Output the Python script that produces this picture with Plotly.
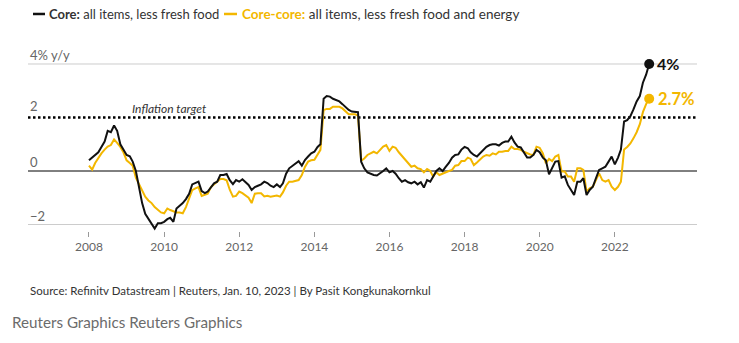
import pandas as pd
import plotly.graph_objects as go

# Monthly y/y inflation, Jan 2008 - Dec 2022
months = pd.date_range("2008-01-01", periods=180, freq="MS")

core = [
    0.4, 0.5, 0.6, 0.7, 0.9, 1.1, 1.5, 1.45, 1.7, 1.5, 1.0, 0.8,          # 2008
    0.6, 0.55, 0.35, 0.0, -0.55, -1.2, -1.6, -1.8, -1.95, -2.15, -1.95, -1.95,  # 2009
    -1.9, -1.8, -1.75, -1.9, -1.4, -1.3, -1.2, -1.05, -0.85, -0.5, -0.45, -0.4,  # 2010
    -0.75, -0.83, -0.77, -0.6, -0.46, -0.4, -0.15, -0.15, -0.11, -0.34, -0.49, -0.34,  # 2011
    -0.4, -0.31, -0.4, -0.52, -0.71, -0.6, -0.55, -0.5, -0.4, -0.45, -0.55, -0.6,  # 2012
    -0.5, -0.6, -0.46, -0.1, 0.1, 0.2, 0.3, 0.37, 0.2, 0.41, 0.54, 0.66,  # 2013
    0.72, 0.9, 1.0, 2.7, 2.8, 2.78, 2.7, 2.65, 2.6, 2.5, 2.4, 2.28,       # 2014
    2.22, 2.22, 2.2, 0.35, 0.1, -0.05, -0.1, -0.15, -0.17, -0.1, 0.0, 0.1,  # 2015
    -0.05, 0.0, -0.1, -0.27, -0.4, -0.34, -0.42, -0.46, -0.4, -0.5, -0.42, -0.62,  # 2016
    -0.34, -0.4, -0.2, 0.0, 0.1, 0.0, 0.15, 0.3, 0.5, 0.6, 0.62, 0.8,    # 2017
    0.9, 0.85, 0.7, 0.6, 0.54, 0.66, 0.75, 0.9, 0.97, 1.0, 1.0, 0.95,    # 2018
    1.05, 1.1, 1.1, 1.28, 1.07, 0.91, 0.88, 0.7, 0.5, 0.5, 0.6, 0.79,    # 2019
    0.7, 0.5, 0.4, -0.12, 0.1, 0.35, 0.37, -0.25, -0.2, -0.52, -0.71, -0.9,  # 2020
    -0.4, -0.4, -0.27, -0.9, -0.71, -0.59, -0.27, 0.04, 0.1, 0.16, 0.35, 0.54,  # 2021
    0.25, 0.5, 0.8, 1.85, 1.9, 2.05, 2.3, 2.6, 2.8, 3.3, 3.6, 4.0,       # 2022
]

core_core = [
    0.2, 0.05, 0.3, 0.5, 0.66, 0.8, 0.91, 0.97, 1.18, 1.05, 0.9, 0.7,    # 2008
    0.4, 0.3, 0.2, -0.25, -0.5, -0.75, -0.96, -1.1, -1.2, -1.35, -1.45, -1.55,  # 2009
    -1.58, -1.4, -1.46, -1.5, -1.55, -1.55, -1.58, -1.35, -1.05, -0.72, -0.65, -0.6,  # 2010
    -0.93, -0.9, -0.85, -0.6, -0.5, -0.42, -0.3, -0.3, -0.35, -0.7, -0.96, -0.93,  # 2011
    -0.77, -0.83, -0.9, -1.0, -1.2, -0.85, -0.83, -0.83, -0.95, -0.93, -0.96, -0.95,  # 2012
    -0.92, -0.96, -0.8, -0.55, -0.4, -0.4, -0.38, -0.34, -0.15, 0.15, 0.35, 0.4,  # 2013
    0.42, 0.6, 0.79, 2.28, 2.32, 2.32, 2.4, 2.4, 2.4, 2.34, 2.22, 2.12,  # 2014
    2.12, 2.12, 2.07, 0.38, 0.47, 0.6, 0.66, 0.72, 0.66, 0.79, 0.91, 0.97,  # 2015
    0.75, 0.91, 0.87, 0.7, 0.57, 0.45, 0.3, 0.16, 0.2, 0.1, 0.07, -0.05,  # 2016
    0.07, 0.0, -0.21, -0.05, -0.15, -0.09, -0.05, 0.0, 0.04, 0.2, 0.22, 0.37,  # 2017
    0.37, 0.5, 0.45, 0.22, 0.32, 0.45, 0.54, 0.6, 0.57, 0.66, 0.62, 0.72,  # 2018
    0.72, 0.75, 0.75, 0.91, 0.82, 0.82, 0.79, 0.72, 0.66, 0.62, 0.6, 0.91,  # 2019
    0.87, 0.66, 0.29, 0.45, 0.37, 0.54, 0.6, -0.02, -0.02, -0.21, -0.21, -0.4,  # 2020
    0.1, 0.1, 0.04, -0.77, -0.65, -0.59, -0.34, -0.09, -0.34, -0.4, -0.34, -0.59,  # 2021
    -0.71, -0.59, -0.4, 0.8, 0.9, 1.03, 1.22, 1.45, 1.75, 2.2, 2.5, 2.7,  # 2022
]

tick_years = [2008, 2010, 2012, 2014, 2016, 2018, 2020, 2022]
y_labels = {4: "4% y/y", 2: "2", 0: "0", -2: "\u22122"}
inflation_target = 2

BLACK = "#111111"
GOLD = "#f3b700"
FONT = "Lato"

fig = go.Figure()

fig.add_trace(go.Scatter(x=months, y=core_core, mode="lines",
                         line=dict(color=GOLD, width=2), hoverinfo="skip"))
fig.add_trace(go.Scatter(x=months, y=core, mode="lines",
                         line=dict(color=BLACK, width=2), hoverinfo="skip"))

# end-point dots with value labels
fig.add_trace(go.Scatter(x=[months[-1]], y=[core_core[-1]], mode="markers",
                         marker=dict(color=GOLD, size=10), hoverinfo="skip"))
fig.add_trace(go.Scatter(x=[months[-1]], y=[core[-1]], mode="markers",
                         marker=dict(color=BLACK, size=10), hoverinfo="skip"))

annotations = [
    dict(x=months[-1], y=core[-1], xref="x", yref="y", text=f"<b>{core[-1]:g}%</b>",
         xanchor="left", yanchor="middle", xshift=6, showarrow=False,
         font=dict(family=FONT, size=16, color=BLACK)),
    dict(x=months[-1], y=core_core[-1], xref="x", yref="y", text=f"<b>{core_core[-1]:g}%</b>",
         xanchor="left", yanchor="middle", xshift=7, showarrow=False,
         font=dict(family=FONT, size=16.5, color=GOLD)),
    dict(x="2009-02-01", y=inflation_target, xref="x", yref="y", text="<i>Inflation target</i>",
         xanchor="left", yanchor="bottom", yshift=-1, showarrow=False,
         font=dict(family=FONT, size=12, color="#333333")),
]

for val, lab in y_labels.items():
    annotations.append(dict(x=0, y=val, xref="paper", yref="y", text=lab,
                            xanchor="left", yanchor="bottom",
                            yshift=1 if val == inflation_target else -1,
                            showarrow=False,
                            font=dict(family=FONT, size=13, color="#666666")))

# legend drawn as text with short line swatches
legend_y = 1.199
annotations += [
    dict(x=19 / 669, y=legend_y, xref="paper", yref="paper",
         text="<b>Core:</b> all items, less fresh food",
         xanchor="left", yanchor="middle", showarrow=False,
         font=dict(family=FONT, size=13, color="#333333")),
    dict(x=212 / 669, y=legend_y, xref="paper", yref="paper",
         text=f"<b><span style='color:{GOLD}'>Core-core:</span></b> all items, less fresh food and energy",
         xanchor="left", yanchor="middle", showarrow=False,
         font=dict(family=FONT, size=13.5, color="#333333")),
    dict(x=0, y=-0.33, xref="paper", yref="paper",
         text="Source: Refinitv Datastream | Reuters, Jan. 10, 2023 | By Pasit Kongkunakornkul",
         xanchor="left", yanchor="middle", showarrow=False,
         font=dict(family=FONT, size=11.5, color="#333333")),
    dict(x=-18 / 669, y=-0.50, xref="paper", yref="paper",
         text="Reuters Graphics Reuters Graphics",
         xanchor="left", yanchor="middle", showarrow=False,
         font=dict(family=FONT, size=15.2, color="#6b6b6b")),
]

shapes = [
    dict(type="line", xref="paper", yref="paper", x0=5 / 669, x1=17 / 669,
         y0=legend_y, y1=legend_y, line=dict(color=BLACK, width=2.5)),
    dict(type="line", xref="paper", yref="paper", x0=196 / 669, x1=209 / 669,
         y0=legend_y, y1=legend_y, line=dict(color=GOLD, width=2.5)),
]
for val in (4, -2):
    shapes.append(dict(type="line", xref="paper", yref="y", x0=0, x1=1, y0=val, y1=val,
                       layer="below", line=dict(color="#cccccc", width=1)))
shapes.append(dict(type="line", xref="paper", yref="y", x0=0, x1=1, y0=0, y1=0,
                   layer="below", line=dict(color="#000000", width=1)))
shapes.append(dict(type="line", xref="paper", yref="y", x0=0, x1=1,
                   y0=inflation_target, y1=inflation_target, layer="below",
                   line=dict(color="#000000", width=2.5, dash="2.5px,2.5px")))

fig.update_layout(
    width=739, height=343,
    margin=dict(l=28, r=42, t=50, b=112),
    paper_bgcolor="white", plot_bgcolor="white",
    showlegend=False,
    font=dict(family=FONT),
    annotations=annotations,
    shapes=shapes,
    xaxis=dict(
        type="date",
        range=["2006-05-18", "2024-03-10"],
        tickvals=[f"{y}-01-01" for y in tick_years],
        ticktext=[str(y) for y in tick_years],
        ticks="outside", ticklen=5, tickcolor="#999999", tickwidth=1,
        tickfont=dict(family=FONT, size=12, color="#666666"),
        showgrid=False, showline=False, zeroline=False, fixedrange=True,
    ),
    yaxis=dict(
        range=[-2.243, 4.523],
        showticklabels=False, showgrid=False, zeroline=False,
        showline=False, ticks="", fixedrange=True,
    ),
)

fig.write_html("out.html")
